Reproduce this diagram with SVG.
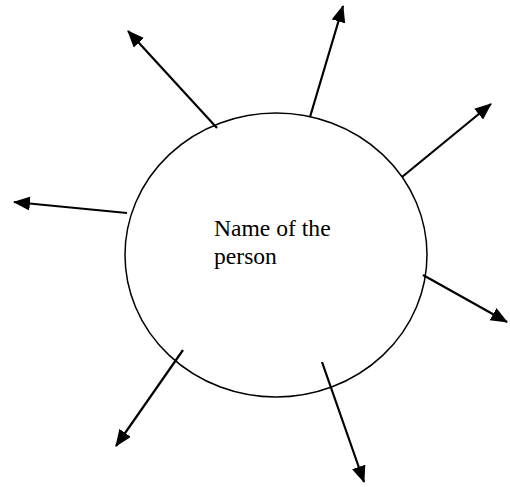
<svg xmlns="http://www.w3.org/2000/svg" width="510" height="487" viewBox="0 0 510 487">
<style>
.conn{stroke:#000;stroke-width:2.2;fill:none;marker-end:url(#ah)}
.node{fill:#fff;stroke:#000;stroke-width:1.5}
.lbl{font-family:"Liberation Serif","Times New Roman",serif;font-size:23.6px;fill:#000}
</style>
<defs>
<marker id="ah" markerUnits="userSpaceOnUse" markerWidth="18" markerHeight="15" refX="16" refY="7" orient="auto">
<path d="M0,0 L17,7 L0,14 z" fill="#000"/>
</marker>
</defs>
<rect width="510" height="487" fill="#fff"/>
<g id="person">
<ellipse class="node" cx="276" cy="255" rx="151" ry="142"/>
<text class="lbl" x="214" y="236">Name of the</text>
<text class="lbl" x="214" y="264">person</text>
</g>
<g id="connectors">
<line class="conn" x1="217" y1="128" x2="128" y2="31"/>
<line class="conn" x1="310" y1="117" x2="343" y2="6"/>
<line class="conn" x1="402" y1="177" x2="491" y2="104"/>
<line class="conn" x1="127" y1="213" x2="14" y2="202"/>
<line class="conn" x1="423" y1="275" x2="507" y2="322"/>
<line class="conn" x1="183" y1="350" x2="116" y2="446"/>
<line class="conn" x1="322" y1="362" x2="364" y2="482"/>
</g>
</svg>
